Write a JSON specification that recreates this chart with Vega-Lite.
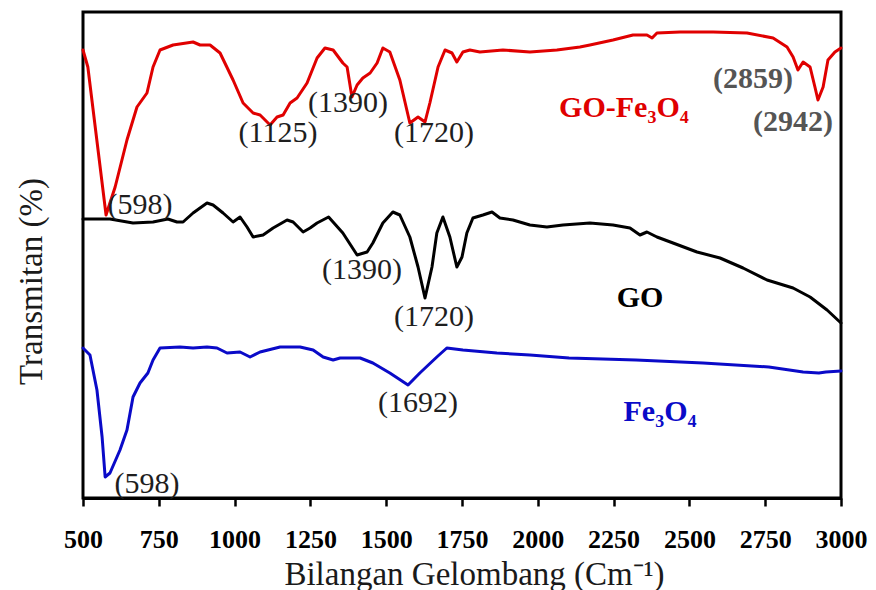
{
  "$schema": "https://vega.github.io/schema/vega-lite/v6.json",
  "width": 758,
  "height": 486,
  "autosize": {"type": "none"},
  "padding": {"left": 83, "top": 12, "right": 35, "bottom": 92},
  "background": "white",
  "config": {
    "view": {"stroke": "black", "strokeWidth": 3},
    "axis": {"grid": false}
  },
  "datasets": {
    "spectra": [
      {"s": "GO-Fe3O4", "w": 500, "t": 448},
      {"s": "GO-Fe3O4", "w": 516, "t": 431},
      {"s": "GO-Fe3O4", "w": 576, "t": 283},
      {"s": "GO-Fe3O4", "w": 606, "t": 311},
      {"s": "GO-Fe3O4", "w": 645, "t": 358},
      {"s": "GO-Fe3O4", "w": 678, "t": 391},
      {"s": "GO-Fe3O4", "w": 711, "t": 405},
      {"s": "GO-Fe3O4", "w": 731, "t": 431},
      {"s": "GO-Fe3O4", "w": 754, "t": 448},
      {"s": "GO-Fe3O4", "w": 797, "t": 453},
      {"s": "GO-Fe3O4", "w": 863, "t": 456},
      {"s": "GO-Fe3O4", "w": 886, "t": 453},
      {"s": "GO-Fe3O4", "w": 919, "t": 453},
      {"s": "GO-Fe3O4", "w": 952, "t": 445},
      {"s": "GO-Fe3O4", "w": 995, "t": 418},
      {"s": "GO-Fe3O4", "w": 1028, "t": 395},
      {"s": "GO-Fe3O4", "w": 1061, "t": 385},
      {"s": "GO-Fe3O4", "w": 1084, "t": 383},
      {"s": "GO-Fe3O4", "w": 1117, "t": 373},
      {"s": "GO-Fe3O4", "w": 1140, "t": 381},
      {"s": "GO-Fe3O4", "w": 1160, "t": 383},
      {"s": "GO-Fe3O4", "w": 1183, "t": 395},
      {"s": "GO-Fe3O4", "w": 1206, "t": 400},
      {"s": "GO-Fe3O4", "w": 1239, "t": 415},
      {"s": "GO-Fe3O4", "w": 1272, "t": 440},
      {"s": "GO-Fe3O4", "w": 1298, "t": 450},
      {"s": "GO-Fe3O4", "w": 1325, "t": 448},
      {"s": "GO-Fe3O4", "w": 1357, "t": 435},
      {"s": "GO-Fe3O4", "w": 1371, "t": 431},
      {"s": "GO-Fe3O4", "w": 1387, "t": 401},
      {"s": "GO-Fe3O4", "w": 1404, "t": 413},
      {"s": "GO-Fe3O4", "w": 1423, "t": 420},
      {"s": "GO-Fe3O4", "w": 1447, "t": 425},
      {"s": "GO-Fe3O4", "w": 1470, "t": 435},
      {"s": "GO-Fe3O4", "w": 1489, "t": 450},
      {"s": "GO-Fe3O4", "w": 1512, "t": 446},
      {"s": "GO-Fe3O4", "w": 1545, "t": 418},
      {"s": "GO-Fe3O4", "w": 1578, "t": 375},
      {"s": "GO-Fe3O4", "w": 1605, "t": 381},
      {"s": "GO-Fe3O4", "w": 1628, "t": 376},
      {"s": "GO-Fe3O4", "w": 1644, "t": 395},
      {"s": "GO-Fe3O4", "w": 1671, "t": 431},
      {"s": "GO-Fe3O4", "w": 1694, "t": 448},
      {"s": "GO-Fe3O4", "w": 1717, "t": 445},
      {"s": "GO-Fe3O4", "w": 1733, "t": 436},
      {"s": "GO-Fe3O4", "w": 1753, "t": 446},
      {"s": "GO-Fe3O4", "w": 1776, "t": 448},
      {"s": "GO-Fe3O4", "w": 1809, "t": 446},
      {"s": "GO-Fe3O4", "w": 1885, "t": 448},
      {"s": "GO-Fe3O4", "w": 1974, "t": 446},
      {"s": "GO-Fe3O4", "w": 2063, "t": 448},
      {"s": "GO-Fe3O4", "w": 2139, "t": 451},
      {"s": "GO-Fe3O4", "w": 2172, "t": 453},
      {"s": "GO-Fe3O4", "w": 2248, "t": 458},
      {"s": "GO-Fe3O4", "w": 2314, "t": 463},
      {"s": "GO-Fe3O4", "w": 2360, "t": 463},
      {"s": "GO-Fe3O4", "w": 2377, "t": 460},
      {"s": "GO-Fe3O4", "w": 2393, "t": 465},
      {"s": "GO-Fe3O4", "w": 2469, "t": 466},
      {"s": "GO-Fe3O4", "w": 2578, "t": 466},
      {"s": "GO-Fe3O4", "w": 2690, "t": 465},
      {"s": "GO-Fe3O4", "w": 2776, "t": 460},
      {"s": "GO-Fe3O4", "w": 2822, "t": 451},
      {"s": "GO-Fe3O4", "w": 2842, "t": 441},
      {"s": "GO-Fe3O4", "w": 2858, "t": 428},
      {"s": "GO-Fe3O4", "w": 2875, "t": 436},
      {"s": "GO-Fe3O4", "w": 2898, "t": 431},
      {"s": "GO-Fe3O4", "w": 2914, "t": 411},
      {"s": "GO-Fe3O4", "w": 2924, "t": 398},
      {"s": "GO-Fe3O4", "w": 2941, "t": 411},
      {"s": "GO-Fe3O4", "w": 2957, "t": 438},
      {"s": "GO-Fe3O4", "w": 2980, "t": 446},
      {"s": "GO-Fe3O4", "w": 3000, "t": 450},

      {"s": "GO", "w": 500, "t": 279},
      {"s": "GO", "w": 589, "t": 279},
      {"s": "GO", "w": 665, "t": 275},
      {"s": "GO", "w": 731, "t": 276},
      {"s": "GO", "w": 780, "t": 279},
      {"s": "GO", "w": 810, "t": 276},
      {"s": "GO", "w": 830, "t": 276},
      {"s": "GO", "w": 863, "t": 285},
      {"s": "GO", "w": 909, "t": 295},
      {"s": "GO", "w": 929, "t": 293},
      {"s": "GO", "w": 962, "t": 285},
      {"s": "GO", "w": 995, "t": 276},
      {"s": "GO", "w": 1018, "t": 281},
      {"s": "GO", "w": 1041, "t": 271},
      {"s": "GO", "w": 1061, "t": 261},
      {"s": "GO", "w": 1094, "t": 263},
      {"s": "GO", "w": 1127, "t": 270},
      {"s": "GO", "w": 1173, "t": 278},
      {"s": "GO", "w": 1193, "t": 276},
      {"s": "GO", "w": 1226, "t": 266},
      {"s": "GO", "w": 1249, "t": 270},
      {"s": "GO", "w": 1272, "t": 275},
      {"s": "GO", "w": 1310, "t": 281},
      {"s": "GO", "w": 1357, "t": 265},
      {"s": "GO", "w": 1404, "t": 243},
      {"s": "GO", "w": 1437, "t": 246},
      {"s": "GO", "w": 1456, "t": 255},
      {"s": "GO", "w": 1489, "t": 275},
      {"s": "GO", "w": 1522, "t": 286},
      {"s": "GO", "w": 1545, "t": 283},
      {"s": "GO", "w": 1578, "t": 261},
      {"s": "GO", "w": 1605, "t": 231},
      {"s": "GO", "w": 1628, "t": 200},
      {"s": "GO", "w": 1651, "t": 231},
      {"s": "GO", "w": 1667, "t": 265},
      {"s": "GO", "w": 1687, "t": 281},
      {"s": "GO", "w": 1710, "t": 261},
      {"s": "GO", "w": 1733, "t": 231},
      {"s": "GO", "w": 1750, "t": 241},
      {"s": "GO", "w": 1766, "t": 265},
      {"s": "GO", "w": 1786, "t": 280},
      {"s": "GO", "w": 1819, "t": 283},
      {"s": "GO", "w": 1849, "t": 286},
      {"s": "GO", "w": 1875, "t": 280},
      {"s": "GO", "w": 1918, "t": 278},
      {"s": "GO", "w": 1974, "t": 273},
      {"s": "GO", "w": 2030, "t": 271},
      {"s": "GO", "w": 2083, "t": 273},
      {"s": "GO", "w": 2172, "t": 275},
      {"s": "GO", "w": 2248, "t": 273},
      {"s": "GO", "w": 2304, "t": 270},
      {"s": "GO", "w": 2337, "t": 263},
      {"s": "GO", "w": 2360, "t": 266},
      {"s": "GO", "w": 2393, "t": 261},
      {"s": "GO", "w": 2446, "t": 255},
      {"s": "GO", "w": 2525, "t": 246},
      {"s": "GO", "w": 2601, "t": 240},
      {"s": "GO", "w": 2677, "t": 230},
      {"s": "GO", "w": 2756, "t": 218},
      {"s": "GO", "w": 2842, "t": 210},
      {"s": "GO", "w": 2898, "t": 201},
      {"s": "GO", "w": 2954, "t": 188},
      {"s": "GO", "w": 3000, "t": 175},

      {"s": "Fe3O4", "w": 500, "t": 150},
      {"s": "Fe3O4", "w": 523, "t": 143},
      {"s": "Fe3O4", "w": 546, "t": 108},
      {"s": "Fe3O4", "w": 563, "t": 61},
      {"s": "Fe3O4", "w": 573, "t": 21},
      {"s": "Fe3O4", "w": 589, "t": 25},
      {"s": "Fe3O4", "w": 622, "t": 48},
      {"s": "Fe3O4", "w": 645, "t": 68},
      {"s": "Fe3O4", "w": 665, "t": 101},
      {"s": "Fe3O4", "w": 688, "t": 115},
      {"s": "Fe3O4", "w": 714, "t": 125},
      {"s": "Fe3O4", "w": 731, "t": 138},
      {"s": "Fe3O4", "w": 754, "t": 150},
      {"s": "Fe3O4", "w": 820, "t": 151},
      {"s": "Fe3O4", "w": 863, "t": 150},
      {"s": "Fe3O4", "w": 909, "t": 151},
      {"s": "Fe3O4", "w": 942, "t": 150},
      {"s": "Fe3O4", "w": 975, "t": 145},
      {"s": "Fe3O4", "w": 1018, "t": 146},
      {"s": "Fe3O4", "w": 1051, "t": 141},
      {"s": "Fe3O4", "w": 1084, "t": 146},
      {"s": "Fe3O4", "w": 1150, "t": 151},
      {"s": "Fe3O4", "w": 1216, "t": 151},
      {"s": "Fe3O4", "w": 1259, "t": 148},
      {"s": "Fe3O4", "w": 1292, "t": 141},
      {"s": "Fe3O4", "w": 1325, "t": 138},
      {"s": "Fe3O4", "w": 1348, "t": 140},
      {"s": "Fe3O4", "w": 1414, "t": 140},
      {"s": "Fe3O4", "w": 1456, "t": 135},
      {"s": "Fe3O4", "w": 1512, "t": 125},
      {"s": "Fe3O4", "w": 1572, "t": 113},
      {"s": "Fe3O4", "w": 1611, "t": 125},
      {"s": "Fe3O4", "w": 1667, "t": 141},
      {"s": "Fe3O4", "w": 1700, "t": 150},
      {"s": "Fe3O4", "w": 1753, "t": 148},
      {"s": "Fe3O4", "w": 1865, "t": 145},
      {"s": "Fe3O4", "w": 1974, "t": 143},
      {"s": "Fe3O4", "w": 2103, "t": 140},
      {"s": "Fe3O4", "w": 2324, "t": 138},
      {"s": "Fe3O4", "w": 2545, "t": 135},
      {"s": "Fe3O4", "w": 2762, "t": 131},
      {"s": "Fe3O4", "w": 2875, "t": 126},
      {"s": "Fe3O4", "w": 2927, "t": 125},
      {"s": "Fe3O4", "w": 2950, "t": 126},
      {"s": "Fe3O4", "w": 3000, "t": 127}
    ],
    "peaks": [
      {"label": "(598)", "w": 688, "t": 293},
      {"label": "(1125)", "w": 1143, "t": 365},
      {"label": "(1390)", "w": 1374, "t": 395},
      {"label": "(1720)", "w": 1658, "t": 365},
      {"label": "(1390)", "w": 1420, "t": 228},
      {"label": "(1720)", "w": 1658, "t": 181},
      {"label": "(1692)", "w": 1605, "t": 95},
      {"label": "(598)", "w": 711, "t": 14}
    ],
    "peaksBold": [
      {"label": "(2859)", "w": 2710, "t": 419},
      {"label": "(2942)", "w": 2842, "t": 376}
    ],
    "names": [
      {"s": "GO-Fe3O4", "label": "GO-Fe₃O₄", "w": 2284, "t": 390},
      {"s": "GO", "label": "GO", "w": 2337, "t": 200},
      {"s": "Fe3O4", "label": "Fe₃O₄", "w": 2403, "t": 86}
    ]
  },
  "layer": [
    {
      "data": {"name": "spectra"},
      "mark": {"type": "line", "strokeWidth": 3, "strokeJoin": "round", "strokeCap": "round"},
      "encoding": {
        "x": {
          "field": "w", "type": "quantitative",
          "scale": {"domain": [500, 3000], "nice": false, "zero": false},
          "axis": {
            "title": "Bilangan Gelombang (Cm⁻¹)",
            "titleFont": "Liberation Serif", "titleFontSize": 33, "titleFontWeight": "normal",
            "titleColor": "#1a1a1a", "titleX": 391, "titleY": 86, "titleBaseline": "alphabetic", "titleAlign": "center",
            "values": [500, 625, 750, 875, 1000, 1125, 1250, 1375, 1500, 1625, 1750, 1875, 2000, 2125, 2250, 2375, 2500, 2625, 2750, 2875, 3000],
            "labelExpr": "datum.value % 250 == 0 ? format(datum.value, 'd') : ''",
            "labelFont": "Liberation Serif", "labelFontSize": 26, "labelFontWeight": "bold", "labelColor": "black",
            "labelFlush": false, "labelOverlap": false, "labelBaseline": "alphabetic", "labelPadding": 41,
            "tickSize": 8, "tickWidth": 2.5, "tickColor": "black",
            "domainColor": "black", "domainWidth": 3, "grid": false
          }
        },
        "y": {
          "field": "t", "type": "quantitative",
          "scale": {"domain": [0, 486], "nice": false, "zero": false},
          "axis": {
            "title": "Transmitan (%)",
            "titleFont": "Liberation Serif", "titleFontSize": 33, "titleFontWeight": "normal",
            "titleColor": "#1a1a1a", "titleX": -42, "titleY": 269, "titleBaseline": "alphabetic", "titleAlign": "center", "titleAngle": -90,
            "labels": false, "ticks": false, "domain": false, "grid": false
          }
        },
        "color": {
          "field": "s", "type": "nominal",
          "scale": {"domain": ["GO-Fe3O4", "GO", "Fe3O4"], "range": ["#e00000", "#000000", "#0a0ac8"]},
          "legend": null
        }
      }
    },
    {
      "data": {"name": "peaks"},
      "mark": {"type": "text", "font": "Liberation Serif", "fontSize": 30, "color": "#1e1e1e", "align": "center", "baseline": "middle"},
      "encoding": {
        "x": {"field": "w", "type": "quantitative"},
        "y": {"field": "t", "type": "quantitative"},
        "text": {"field": "label"}
      }
    },
    {
      "data": {"name": "peaksBold"},
      "mark": {"type": "text", "font": "Liberation Serif", "fontSize": 30, "fontWeight": "bold", "color": "#555555", "align": "center", "baseline": "middle"},
      "encoding": {
        "x": {"field": "w", "type": "quantitative"},
        "y": {"field": "t", "type": "quantitative"},
        "text": {"field": "label"}
      }
    },
    {
      "data": {"name": "names"},
      "mark": {"type": "text", "font": "Liberation Serif", "fontSize": 30, "fontWeight": "bold", "align": "center", "baseline": "middle"},
      "encoding": {
        "x": {"field": "w", "type": "quantitative"},
        "y": {"field": "t", "type": "quantitative"},
        "text": {"field": "label"},
        "color": {
          "field": "s", "type": "nominal",
          "scale": {"domain": ["GO-Fe3O4", "GO", "Fe3O4"], "range": ["#e00000", "#000000", "#0a0ac8"]},
          "legend": null
        }
      }
    }
  ]
}
